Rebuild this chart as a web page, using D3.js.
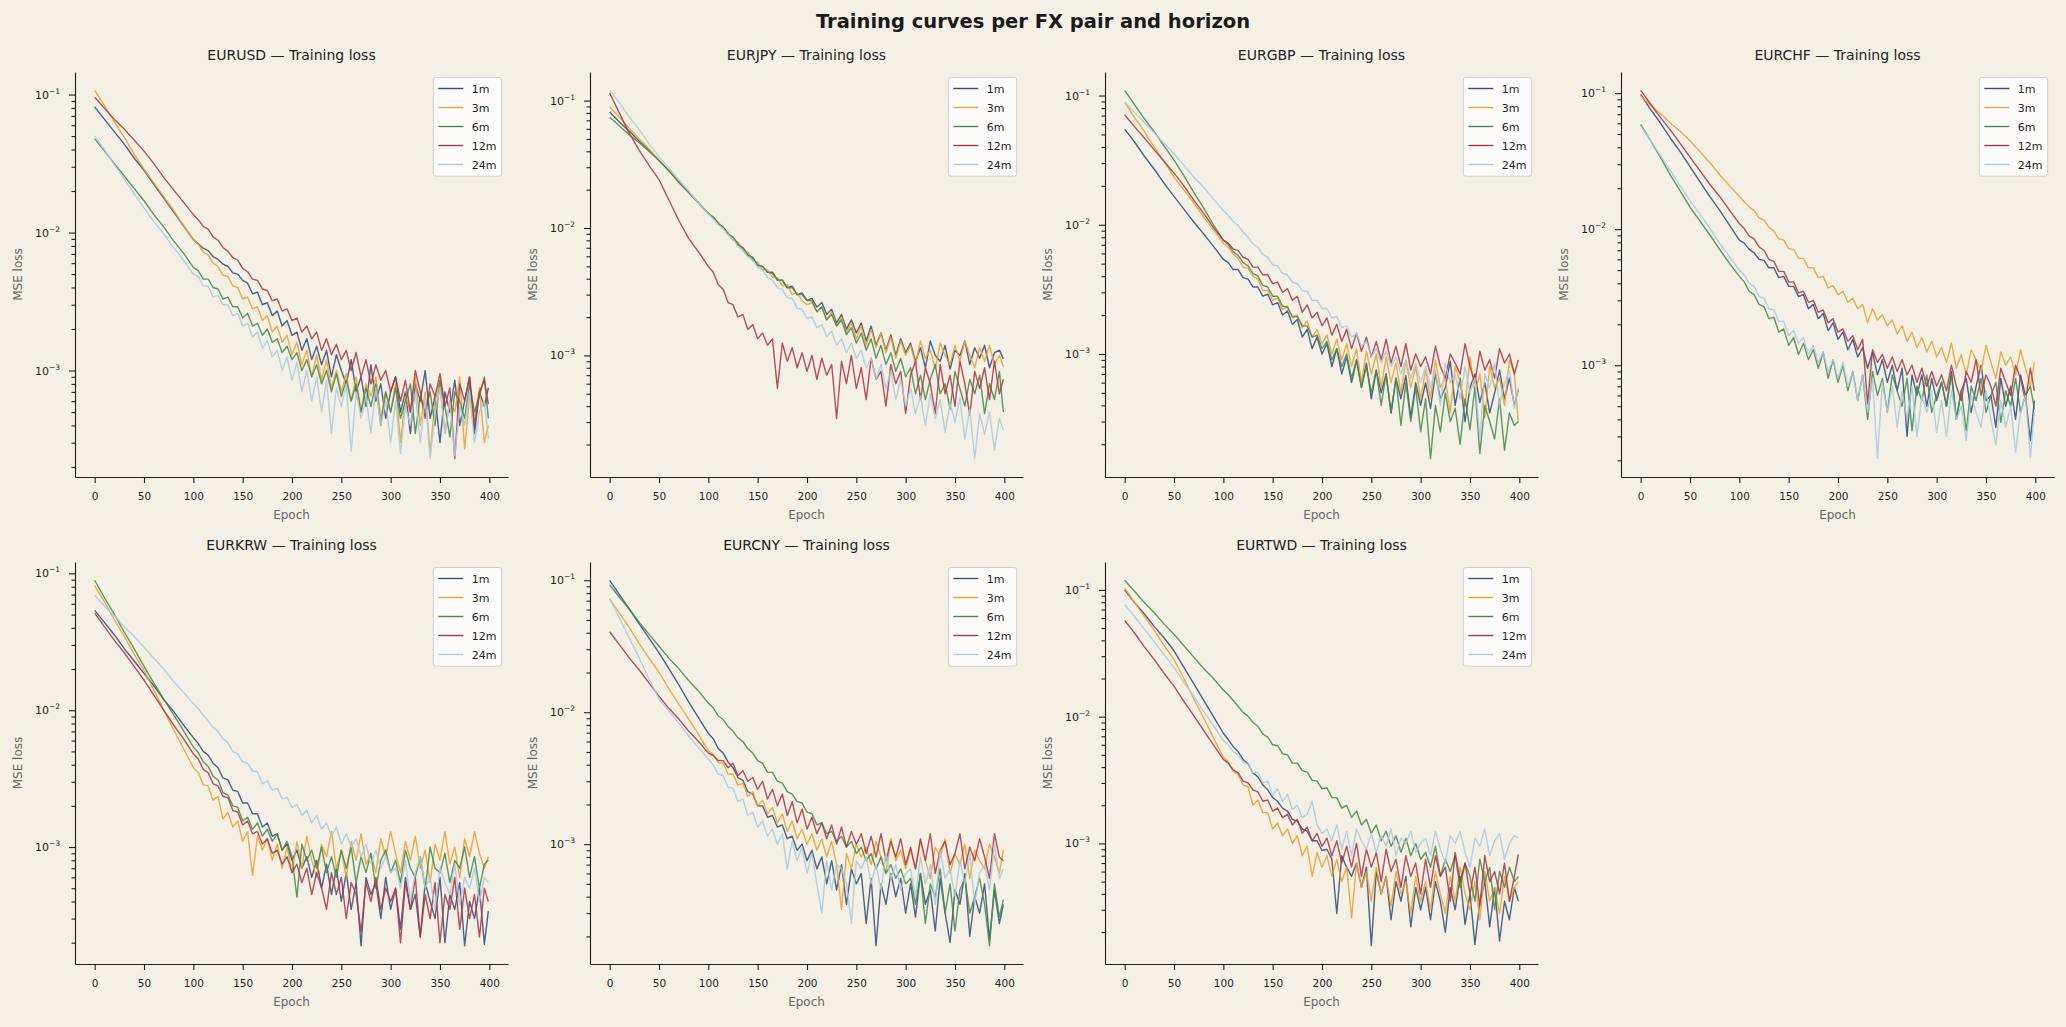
<!DOCTYPE html>
<html>
<head>
<meta charset="utf-8">
<script src="https://cdn.jsdelivr.net/npm/d3@7"></script>
<style>
body { margin: 0; background: #f5f0e5; }
svg text { font-family: "DejaVu Sans", sans-serif; }
</style>
</head>
<body>
<script>
var epochs = [0,10,20,30,40,50,60,70,80,90,100,
  105,110,115,120,125,130,135,140,145,150,155,160,165,170,175,180,185,190,195,200,
  205,210,215,220,225,230,235,240,245,250,255,260,265,270,275,280,285,290,295,300,
  305,310,315,320,325,330,335,340,345,350,355,360,365,370,375,380,385,390,395,399];

var horizons = ["1m", "3m", "6m", "12m", "24m"];
var pairs = ["EURUSD", "EURJPY", "EURGBP", "EURCHF", "EURKRW", "EURCNY", "EURTWD"];
var colors = ["#344d7a", "#eaa131", "#468a4f", "#ae3644", "#abc9dd"];
var xTicks = [0, 50, 100, 150, 200, 250, 300, 350, 400];

// MSE loss values, in units of 1e-4
var LOSS_UNIT = 1e-4;

var eurusd_1m = [813,661,537,437,347,282,224,178,141,112,89,
  83,77,74,67,64,59,57,51,50,45, 43,36,37,30,31,25,27,21,23,18,
  19,14,17,12,15,11,14,9,13,10, 8,12,7,9,5.5,11,6,8,4.5,7,
  9,5,7,3.5,8,6,10,4.5,6.5,3, 7,5,8.5,4,6,9,3.5,7,5.5,7.5];
var eurusd_3m = [1072,832,631,490,372,288,229,182,145,112,89,
  82,72,69,60,57,49,48,41,40,33, 34,28,29,23,25,19,21,16,18,13,
  16,11,14,9,13,8.5,12,7.5,10,7, 9.5,6,9,5,8,6.5,9,4.5,7,5,
  8,3,6.5,5,9,4,7,2.5,6,8.5, 3.5,6,5,9,2.7,6.5,4.5,7.5,3,4];
var eurusd_6m = [479,389,316,257,209,170,135,110,87,71,56,
  53,46,46,40,39,33,34,29,29,24, 26,21,22,18,20,16,17,13.5,15,12,
  13.5,10,12,9,11,8,10,7,9.5,6.5, 8.5,6,8,5,7.5,5.5,8,4,7,5,
  7.5,4.5,6,8,3.5,6.5,5,7,4,8.5, 5.5,3.3,7,6,4.5,8,5,6.5,9,4.5];
var eurusd_12m = [955,794,661,562,468,389,316,251,204,166,135,
  124,111,106,93,88,78,73,66,63,55, 52,46,45,39,38,32,33,27,28,23,
  24,19,21,17,19,14,17,13,15.5,12, 14,10,13.5,9,12,8,11,8.5,10,7,
  9,6,8.5,5,10,7,4.5,8,6.5,9.5, 5.5,7.5,2.3,8,6,9,4,7,8.5,5.7];
var eurusd_24m = [501,398,309,245,191,151,120,98,78,63,50,
  48,41,41,34,35,30,30,25,26,21, 22,17.5,19,14.5,16.5,12.5,14,10,12.5,8.5,
  11.5,7,10,6,9,5,8.5,3.5,7.5,5.5, 8,2.6,7,4.5,6.5,3.5,7.5,4,6,3,
  6,2.5,5.5,4,7,3,6.5,2.3,5,7.5, 3.5,6,2.4,5.5,4,7,3,5,6,3.2];

var eurjpy_1m = [813,676,575,479,407,339,282,229,191,158,130,
  121,109,101,90,84,75,70,62,58,51, 50,45,45,39,39,34,35,30,31,27,
  28,24,26,21,23,18,21,16,19,15, 18,13,17,12,15,11,14.5,10,13.5,10.5,
  12.5,9,11.5,8,13,10,9,12,7.8,11, 10,13,8.5,11.5,9.5,12,8,10.5,11,9.4];
var eurjpy_3m = [891,741,603,501,417,339,282,234,191,158,130,
  118,112,98,93,80,78,66,65,55,54, 47,47,41,41,35,36,30,31,27,25,
  26,22,24,19,22,17,20,15,18,13.5, 17,12,16,11.5,15,10.5,14,9.5,13,10,
  12,8.5,13,9.5,11,7.8,12.5,10,8.5,12, 9,13,10,8,11.5,9,12,8.5,10,8.2];
var eurjpy_6m = [741,631,537,468,398,339,282,229,191,158,130,
  122,108,102,89,85,74,70,61,59,51, 50,45,44,39,39,34,34,30,30,27,
  27,22,24,19,21,17,19,14.5,16.5,12.5, 15,11,13.5,9.5,12,8.5,10.5,7.5,9.5,6.8,
  8,5,7,4.5,6.5,8.5,5,6,3.8,7.5, 5.5,4,6.5,5,7,3.5,6,4.5,7.5,3.6];
var eurjpy_12m = [1148,794,550,407,309,240,166,115,83,65,50,
  45,36,33,26,25,20,21,16,17.5,13.5, 15,12,13.5,5.5,12.5,9,11.5,8,10.5,7.5,
  10,6.5,9.5,7,8.5,3.2,9,6,10,5.5, 8,4.5,9.5,6.5,7.5,4,8.5,6,7.5,3.5,
  7,9,4.5,8,6,3.5,8.5,5,7,4, 9,6,3.4,7.5,5.5,8,4.5,9,5,6.5];
var eurjpy_24m = [1202,955,741,589,457,363,295,240,195,158,130,
  118,106,99,88,82,71,67,59,56,49, 47,41,39,34,33,28.5,28,23.5,23,19.5,
  20,16.5,17.5,14,15.5,12,13.5,10.5,12.5,9.5, 11,8,9.5,6.5,8.5,5.5,7.5,4.5,6.5,4,
  5.5,3.5,4.8,2.8,5,3.2,4.5,2.5,4.2,3, 4.6,2.2,3.8,1.55,3.5,2.4,3.6,1.8,3.2,2.6];

var eurgbp_1m = [550,437,339,269,209,166,132,105,85,68,54,
  51,45,45,39,38,33,33,28,29,24, 25,20,21.5,17,18.5,13.5,15.5,11,13.5,10,
  12,8,11,7,9.5,6,9,5.5,8.5,4.5, 7.5,5,7,3.5,6.5,4.5,6.8,3.2,6,4,
  6,3.8,7,4.5,5.5,8.8,4,6.5,3,5.5, 7,4.2,6,3.5,5,7.5,4.5,6.5,4,5.3];
var eurgbp_3m = [891,676,525,398,309,234,186,148,115,91,72,
  67,59,55,47,46,40,38,31,31,26, 27,22,23.5,19,20,16,18,13.5,15.5,12,
  14,10,13,9,12,8,11,6,10.5,7, 10,5.5,9.5,6,8.5,5,9,5.5,8,4.5,
  7.5,4.5,9,5.5,6.5,3.5,8,6,4,9.5, 5,7,3.2,8,5.5,6.5,4,9,7,3];
var eurgbp_6m = [1096,851,661,525,407,316,240,178,135,100,76,
  70,62,58,51,48,42,40,34,33,28, 28,23.5,23,19.5,19.5,16.5,16.5,13.5,14,11,
  12.5,9,11,8,10,6.5,9,5.5,8,5, 7.5,4,7,3.5,6.5,2.8,6,3,5.5,2.5,
  4.5,1.55,4,2.5,5,3,3.8,2,4.5,2.6, 5.5,1.7,4,3,2.2,4.5,1.8,3.5,2.8,3];
var eurgbp_12m = [708,575,468,380,309,251,200,155,123,95,76,
  72,65,63,56,54,47,47,41,41,35, 36,30,32,26,28,21,24,19,21,16.5,
  19,14,17,12.5,15.5,11,14.5,10.5,13.5,9.5, 12.5,9,13,8.5,11.5,8,12,7.5,10,8,
  9.5,7,11.5,8,6.5,10,8.5,7,12,8, 6,10.5,7.5,9,6.5,11,8.5,10,7,9];
var eurgbp_24m = [891,741,617,513,427,355,288,234,195,158,129,
  118,106,99,88,80,71,67,59,56,49, 48,42,41,36,35,31,30.5,26,26,22.5,
  22.5,19,19.5,16,16.5,13.5,14.5,11.5,12.5,9.5, 11,8.5,10.5,8,9.5,7,9,6.5,8.5,6,
  8,5.5,7.5,4,8.5,6,7,4.5,8,5, 6.5,2.2,7,5.5,8.5,4,6,7.5,3.8,5.5];

var eurchf_1m = [977,759,603,468,372,288,224,174,138,107,83,
  79,71,67,60,59,52,52,44,45,38, 38,32,33,26,28,22,24,18,20.5,15.5,
  17.5,13,15.5,11.5,13.5,9.5,12.5,8.5,11,7.5, 10,6.5,9.5,3,8.5,6,8.5,5,8,5.5,
  7.5,5,9,4,6.5,8,4.5,7,10,5.5, 6,3.5,8,5,7,4,8.5,6,2.8,5.5];
var eurchf_3m = [955,813,708,603,525,447,372,309,251,209,174,
  159,146,137,121,117,103,97,85,83,72, 71,61,61,52,52,44,45,37,38.5,33,
  35,29,31,26,28,20.5,26,21.5,23.5,19.5, 21.5,17,19.5,15,17.5,13.5,16,12.5,15,11.5,
  13.5,10.5,14.5,9.5,12,8.5,13,11,9,14, 10.5,8,12.5,10,11.5,8.5,13,9.5,7,10.5];
var eurchf_6m = [589,447,339,251,191,145,115,91,71,56,45,
  41,35,33,28,27,22,22.5,17.5,18.5,14, 16,12,14.5,11,13,9.5,12.5,8,11,7.5,
  10,6.5,9,5.5,8.5,4,9,6,8,4.5, 8.5,6.5,5,8,3.3,7,5.5,8.5,4.5,6,
  7.5,5,8.5,4,6.5,3.3,7,5.5,8,4.5, 6,7.5,3.8,6.5,5,8,4.5,6,7,4.8];
var eurchf_12m = [1047,832,661,537,427,339,269,214,174,138,110,
  101,89,85,74,70,60,58,49,49,41, 41,34,35,29,30,24.5,25.5,20.5,22,17.5,
  18.5,15,16.5,13,15.5,5.2,13,10.5,12,9.5, 11.5,9,11,8.5,10,7.5,9.5,7,9,7,
  8.5,6.5,10,7,5.5,9,7.5,11,6,8.5, 7,5,9.5,7.5,6,10,8,5.5,9.5,6.5];
var eurchf_24m = [575,447,347,269,209,162,129,102,79,63,50,
  46,40,38,32,31,26,25.5,21,21,16.5, 18,14.5,16,12,14,10.5,12.5,9,11,8,
  10.5,7,9,5.5,8.5,4.5,8,2.06,7.5,4.5, 7,3.5,6.5,4,7,3,6,4.5,6.5,3.2,
  5.5,3,6.5,4,5,2.8,6,4.5,3.5,6.5, 4,2.6,5.5,3.5,5,2.3,4.5,6,2.1,4.5];

var eurkrw_1m = [537,437,355,282,229,186,151,120,98,78,63,
  57,50,47,41,38,32,31,26,25.5,21, 21,17.5,17.5,14,15,12,12.5,9.5,10.5,8,
  9.5,7,8.5,6,8,5,7.5,4.5,7,4, 6.5,3.5,5.5,1.9,6,4.5,5.5,3,6,3.5,
  5,2.5,6,3.5,4.5,2.2,5.5,4,3,6, 2,4.5,3.5,5.5,1.9,4,3,5,1.95,3.4];
var eurkrw_3m = [813,617,457,347,257,195,141,100,72,52.5,38,
  35,28.5,28,22,23.5,16,18,14,15.5,11, 13,6.2,12,9.5,11.5,8,10.5,7,10,6.5,
  11,7,12,8,6,10.5,8.5,13,7,9.5, 6,11,8,12.5,7.5,9,6.5,11.5,8.5,13,
  9,6.5,11,8,12,7,9.5,5.5,10.5,8, 13,7.5,10,6,11.5,8.5,13,9,7,8.5];
var eurkrw_6m = [891,661,501,372,282,209,158,120,93,71,54,
  49,42,39,33,31,25,24,20,19.5,15.5, 16.5,13.5,15,12,13.5,11,12.5,9.5,11,8.5,
  4.3,10.5,8,9.5,7,10,6.5,8.5,6,9.5, 7,10,5.5,8.5,6.5,9,5,8,9.5,6.5,
  8,5.5,9.5,7,6,8.5,5,10,7,6.5, 9,5.5,8,7,10,6,8.5,5,7.5,8];
var eurkrw_12m = [513,407,324,263,209,166,129,100,78,62,48,
  44,37,35,29,28,23.5,23,18.5,18,14.5, 15.5,12.5,13,10.5,11.5,9,9.5,7.5,8.5,6.5,
  7.5,5.5,7,4.5,6.5,5,3.5,6.5,4.5,6, 3,5.5,4.5,2.4,5.5,4,6,3.5,5,4,
  5,2,5.5,3.5,6,2.2,4.5,3,5.5,2, 4.5,3.5,6,2.5,5,3,4.5,2.2,5,4];
var eurkrw_24m = [692,575,490,407,347,288,240,200,162,135,112,
  103,92,84,75,70,62,58,50,48,42, 41,36,35.5,29,30.5,26,27,22.5,23,19.5,
  20.5,17,18.5,15,17,13.5,15,12,14,10.5, 12.5,10,11.5,8.5,10.5,7.5,9.5,7,8.5,6.5,
  7,5,8,4,6.5,8.5,5,6,3.5,7, 5.5,4.5,7.5,3.8,6,5,7,4,6,5.5];

var eurcny_1m = [1000,776,603,468,363,282,214,162,120,91,69,
  63,53,49,42,38,32,30.5,25,24,19.5, 19.5,16,16.5,13.5,14,11,11.5,9,10,7.5,
  9,6.5,8,5,7.5,4.5,7,3.5,6.5,5, 6,2.5,5.5,1.7,5,3.5,6,4,5.5,3,
  5,2.8,6,3.5,4.5,2.2,5.5,3,1.8,4.5, 3.5,6,2,4,3,5,1.9,4.5,2.5,3.5];
var eurcny_3m = [724,562,437,331,257,200,151,115,89,68,51,
  48,41.5,41,34,34,28,29,23,25,19.5, 21.5,17,19,14.5,17,12.5,15,11,13,10,
  12,9,11,8,10.5,7,3.2,8.5,6.5,10, 8,9.5,7,10.5,8,6,11,7.5,9,6.5,
  9,6.5,10.5,7.5,5.5,9.5,8,11,6,8.5, 7,10,5.5,9,7.5,6.5,10,8,6,9];
var eurcny_6m = [923,741,603,479,389,316,257,214,174,145,117,
  108,94,88,78,72,64,60,53,49,43, 41,35,35,30,29,25,24,21,20.5,17.5,
  17,14,14.5,12,12.5,10.5,11.5,9.5,10.5,8.5, 9.5,7.5,8.5,6.5,8,6,7,5.5,6.5,5,
  5.5,3.5,6,2.5,5,4,6.5,3,5,2.2, 4.5,5.5,3,4,5.5,3.5,1.7,5,2.8,3.8];
var eurcny_12m = [407,324,257,209,166,132,107,89,72,60,49,
  47,43,43,38,41,33,36,30,32,26, 30,22,26,19.5,24,16.5,21,14.5,18.5,13,
  16,12,14.5,11,14,10,13.5,9.5,12.5,10, 12,8.5,11.5,8,12,7.5,10.5,8,11,7,
  9.5,6.5,11,7.5,12,6,9,10.5,7,8.5, 12,6.5,9.5,7.5,11,8,5.5,12,8,7.5];
var eurcny_24m = [724,513,363,257,178,126,102,83,66,54,44,
  40,34,33,27,26.5,21,22,16.5,17.5,13.5, 15,11.5,13,10,12,6.5,10.5,7.5,9.5,6,
  8.5,5,3,7.5,4.5,7,6.5,5,2.5,7.5, 6.5,8,5,7,4.5,8.5,5.5,7,4.5,6,
  6.5,4,8,5,7,3.5,9,5.5,6.5,4, 7.5,5,8.5,3.5,6,7,4.5,10,5.5,6.5];

var eurtwd_1m = [1000,794,646,513,417,331,245,182,135,100,74,
  66,58,53,46,42.5,36,33.5,29,26.5,23, 21.5,19,18,15.5,15,13,12.5,10.5,10.5,8.8,
  9,7.5,2.8,8,6.5,5.5,7,4.5,6.5,1.56, 6,4,5.5,2.5,5,3.5,5.5,2.2,4.5,3,
  4.5,2.5,5,3.5,2,4.5,3,5.5,2.3,4, 1.6,3.5,5,2.2,4.5,1.7,3.5,2.5,4.5,3.5];
var eurtwd_3m = [1035,794,617,479,363,282,200,138,98,68,48,
  44,37,35,29,28,20,22,17.5,17.5,13, 14.5,11.5,13,10,11.5,8,9.5,5.5,8.5,6.5,
  8,5.5,7.5,5,6.5,2.6,7,4.5,6,3.5, 6.5,4,5.5,3.2,6,4,5,2.8,5.5,3.5,
  5,3,6,4,2.8,5.5,3.5,6.5,4,3, 5,2.5,6,3.5,4.5,2.8,5.5,3.5,4.5,5];
var eurtwd_6m = [1191,977,794,661,537,447,363,295,240,200,162,
  149,134,121,108,101,90,84,73,69,60, 59,51,50,43,43,37.5,36.5,31.5,31,27,
  27.5,23,23,19,20,16,18,14,15.5,12, 14,10.5,12.5,9.5,11.5,8.5,11,8,10,7.5,
  8.5,6.5,9.5,5.5,7.5,6,8,4.5,7,5.5, 3.5,7.5,5,6.5,3,6,4.5,6.5,5,5.5];
var eurtwd_12m = [575,457,355,282,219,174,132,102,78,60,46,
  43,38,36,31,30,26.5,25.5,21.5,22,18, 19,16,17,14,15.5,12,13.5,10.5,12,9.5,
  11,8,10.5,7,9.5,6.5,10,5.5,9,6.5, 8.5,5,9,6,7.5,4.5,8,5.5,7,4,
  7.5,4.5,8,5.5,6.5,3.5,8.5,5,7,4, 6.5,3.2,8,5,6,4,7,3.5,5.5,8.2];
var eurtwd_24m = [767,617,490,389,309,245,186,145,110,85,65,
  60,53,50,44,42,36,36.5,30,31,24, 27,21.5,24.5,18.5,20,16,17,21.5,14,12,
  13,10.5,14,9,12.5,8,13,10.5,9,12, 8.5,11.5,9.5,13,8,11,10,12.5,8.5,10,
  11,8,12.5,9,7,11.5,10,12.5,8.5,6.5, 11,9.5,13,8,10.5,12,7.5,10,11.5,11];

var pairSeries = [
  [eurusd_1m, eurusd_3m, eurusd_6m, eurusd_12m, eurusd_24m],
  [eurjpy_1m, eurjpy_3m, eurjpy_6m, eurjpy_12m, eurjpy_24m],
  [eurgbp_1m, eurgbp_3m, eurgbp_6m, eurgbp_12m, eurgbp_24m],
  [eurchf_1m, eurchf_3m, eurchf_6m, eurchf_12m, eurchf_24m],
  [eurkrw_1m, eurkrw_3m, eurkrw_6m, eurkrw_12m, eurkrw_24m],
  [eurcny_1m, eurcny_3m, eurcny_6m, eurcny_12m, eurcny_24m],
  [eurtwd_1m, eurtwd_3m, eurtwd_6m, eurtwd_12m, eurtwd_24m]
];

var w = 2066;
var h = 1027;
var colLeft = [75, 590, 1105, 1621];
var panelW = 433;
var rowTop = [72, 562];
var rowBottom = [477, 964];
var ink = "#1e1e1e";

var svg = d3.select("body").append("svg").attr("width", w).attr("height", h);
svg.append("rect").attr("width", w).attr("height", h).attr("fill", "#f5f0e5");

svg.append("text")
  .attr("x", w / 2).attr("y", 27.5)
  .attr("text-anchor", "middle")
  .attr("font-size", 19.5).attr("font-weight", "bold")
  .attr("fill", "#1a1a1a")
  .text("Training curves per FX pair and horizon");

function toPoints(arr) {
  return epochs.map(function(e, j) { return [e, arr[j] * LOSS_UNIT]; });
}

function drawPanel(pair, series, col, row) {
  var x0 = colLeft[col], y0 = rowTop[row], ph = rowBottom[row] - rowTop[row];

  // log extent of the data with 5% padding, like matplotlib autoscale
  var all = [];
  series.forEach(function(s) { s.forEach(function(v) { all.push(v * LOSS_UNIT); }); });
  var lo = Math.log10(d3.min(all)), hi = Math.log10(d3.max(all));
  var pad = (hi - lo) * 0.05;

  var x = d3.scaleLinear().domain([-19.95, 418.95]).range([0, panelW]);
  var y = d3.scaleLog().domain([Math.pow(10, lo - pad), Math.pow(10, hi + pad)]).range([ph, 0]);

  var g = svg.append("g").attr("transform", "translate(" + x0 + "," + y0 + ")");

  var line = d3.line()
    .x(function(d) { return x(d[0]); })
    .y(function(d) { return y(d[1]); });

  series.forEach(function(s, k) {
    g.append("path")
      .datum(toPoints(s))
      .attr("d", line)
      .attr("fill", "none")
      .attr("stroke", colors[k])
      .attr("stroke-width", 1.4)
      .attr("stroke-opacity", 0.88)
      .attr("stroke-linejoin", "round");
  });

  // x axis
  var xa = g.append("g").attr("transform", "translate(0," + ph + ")")
    .call(d3.axisBottom(x).tickValues(xTicks).tickSize(6).tickSizeOuter(0).tickPadding(9.5));
  xa.selectAll("text").attr("font-size", 10.5).attr("fill", ink).attr("font-family", "DejaVu Sans");

  // y axis: decades + minor ticks
  var dom = y.domain();
  var majors = [], minors = [];
  for (var p = Math.floor(Math.log10(dom[0])); p <= Math.ceil(Math.log10(dom[1])); p++) {
    for (var m = 1; m < 10; m++) {
      var v = m * Math.pow(10, p);
      if (v < dom[0] || v > dom[1]) continue;
      if (m == 1) majors.push(v); else minors.push(v);
    }
  }
  g.append("g").call(d3.axisLeft(y).tickValues(minors).tickSize(3.5).tickSizeOuter(0).tickFormat(""))
    .select(".domain").remove();
  g.append("g").call(d3.axisLeft(y).tickValues(majors).tickSize(6).tickSizeOuter(0).tickFormat(""));

  majors.forEach(function(v) {
    var t = g.append("text")
      .attr("x", -15).attr("y", y(v) + 4)
      .attr("text-anchor", "end")
      .attr("font-size", 11).attr("fill", ink);
    t.append("tspan").text("10");
    t.append("tspan").attr("dy", -5).attr("font-size", 7.5)
      .text("\u2212" + Math.round(-Math.log10(v)));
  });

  g.selectAll(".domain, .tick line").attr("stroke", ink).attr("stroke-width", 1.1);

  // titles
  g.append("text")
    .attr("x", panelW / 2).attr("y", -12)
    .attr("text-anchor", "middle")
    .attr("font-size", 14).attr("fill", "#222")
    .text(pair + " \u2014 Training loss");
  g.append("text")
    .attr("x", panelW / 2).attr("y", ph + 42)
    .attr("text-anchor", "middle")
    .attr("font-size", 12).attr("fill", "#666")
    .text("Epoch");
  g.append("text")
    .attr("transform", "translate(-53," + (ph / 2) + ") rotate(-90)")
    .attr("text-anchor", "middle")
    .attr("font-size", 12).attr("fill", "#666")
    .text("MSE loss");

  // legend
  var lg = g.append("g").attr("transform", "translate(" + (panelW - 74.7) + ",5.5)");
  lg.append("rect")
    .attr("width", 68.4).attr("height", 98.7).attr("rx", 2.5)
    .attr("fill", "#ffffff").attr("fill-opacity", 0.8)
    .attr("stroke", "#cfcfcf").attr("stroke-width", 1);
  horizons.forEach(function(hz, k) {
    var ly = 11 + k * 19;
    lg.append("line")
      .attr("x1", 5).attr("x2", 30).attr("y1", ly).attr("y2", ly)
      .attr("stroke", colors[k]).attr("stroke-width", 1.4);
    lg.append("text")
      .attr("x", 38.5).attr("y", ly + 4)
      .attr("font-size", 11).attr("fill", ink)
      .text(hz);
  });
}

pairs.forEach(function(pair, i) {
  drawPanel(pair, pairSeries[i], i % 4, Math.floor(i / 4));
});
</script>
</body>
</html>
